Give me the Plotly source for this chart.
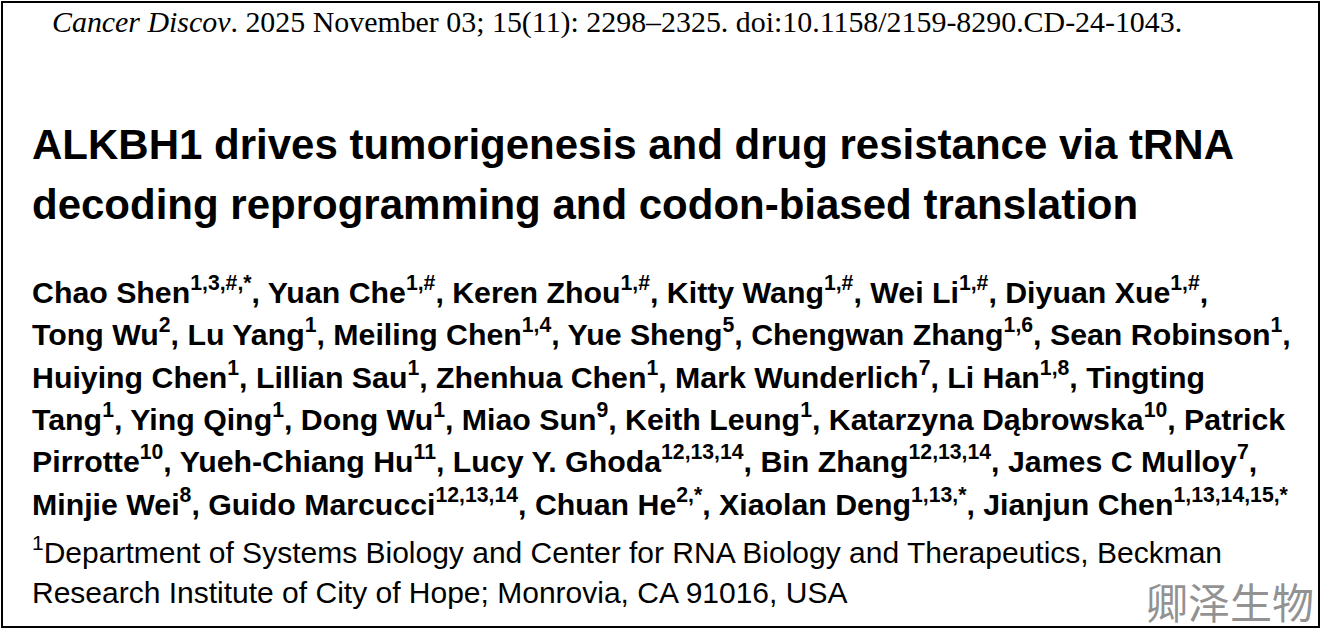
import plotly.graph_objects as go

citation = "<i>Cancer Discov</i>. 2025 November 03; 15(11): 2298–2325. doi:10.1158/2159-8290.CD-24-1043."
title_lines = [
    "ALKBH1 drives tumorigenesis and drug resistance via tRNA",
    "decoding reprogramming and codon-biased translation",
]
author_lines = [
    "Chao Shen<sup>1,3,#,*</sup>, Yuan Che<sup>1,#</sup>, Keren Zhou<sup>1,#</sup>, Kitty Wang<sup>1,#</sup>, Wei Li<sup>1,#</sup>, Diyuan Xue<sup>1,#</sup>,",
    "Tong Wu<sup>2</sup>, Lu Yang<sup>1</sup>, Meiling Chen<sup>1,4</sup>, Yue Sheng<sup>5</sup>, Chengwan Zhang<sup>1,6</sup>, Sean Robinson<sup>1</sup>,",
    "Huiying Chen<sup>1</sup>, Lillian Sau<sup>1</sup>, Zhenhua Chen<sup>1</sup>, Mark Wunderlich<sup>7</sup>, Li Han<sup>1,8</sup>, Tingting",
    "Tang<sup>1</sup>, Ying Qing<sup>1</sup>, Dong Wu<sup>1</sup>, Miao Sun<sup>9</sup>, Keith Leung<sup>1</sup>, Katarzyna Dąbrowska<sup>10</sup>, Patrick",
    "Pirrotte<sup>10</sup>, Yueh-Chiang Hu<sup>11</sup>, Lucy Y. Ghoda<sup>12,13,14</sup>, Bin Zhang<sup>12,13,14</sup>, James C Mulloy<sup>7</sup>,",
    "Minjie Wei<sup>8</sup>, Guido Marcucci<sup>12,13,14</sup>, Chuan He<sup>2,*</sup>, Xiaolan Deng<sup>1,13,*</sup>, Jianjun Chen<sup>1,13,14,15,*</sup>",
]
affil_lines = [
    "<sup>1</sup>Department of Systems Biology and Center for RNA Biology and Therapeutics, Beckman",
    "Research Institute of City of Hope; Monrovia, CA 91016, USA",
]
watermark = "卿泽生物"

fig = go.Figure()
ann = []
ann.append(dict(x=50, y=22, text=citation, font=dict(family="Liberation Serif", size=29.9, color="black")))
for i, t in enumerate(title_lines):
    ann.append(dict(x=30, y=144 + 60 * i, text="<b>" + t + "</b>",
                    font=dict(family="Liberation Sans", size=42, color="black")))
for i, t in enumerate(author_lines):
    ann.append(dict(x=30, y=290 + 42.3 * i, text="<b>" + t + "</b>",
                    font=dict(family="Liberation Sans", size=30.3, color="black")))
for i, t in enumerate(affil_lines):
    ann.append(dict(x=30, y=550 + 42 * i, text=t,
                    font=dict(family="Liberation Sans", size=30, color="black")))
for a in ann:
    a.update(xref="x", yref="y", xanchor="left", yanchor="middle", showarrow=False)
ann.append(dict(x=1316, y=600, xref="x", yref="y", xanchor="right", yanchor="middle",
                showarrow=False, text=watermark,
                font=dict(family="Noto Sans CJK SC", size=42, color="rgba(110,110,110,0.75)")))

fig.update_layout(
    autosize=True, margin=dict(l=0, r=0, t=0, b=0),
    plot_bgcolor="white", paper_bgcolor="white",
    xaxis=dict(range=[0, 1321], visible=False),
    yaxis=dict(range=[630, 0], visible=False),
    annotations=ann,
    shapes=[dict(type="rect", xref="x", yref="y", x0=2, y0=2, x1=1319, y1=627,
                 line=dict(color="black", width=2))],
)
fig.write_html("out.html", config={"responsive": True, "displayModeBar": False},
               default_height="100vh", default_width="100vw",
               post_script="document.body.style.margin='0';document.body.style.overflow='hidden';"
                           "Plotly.Plots.resize(document.getElementById('{plot_id}'));")
